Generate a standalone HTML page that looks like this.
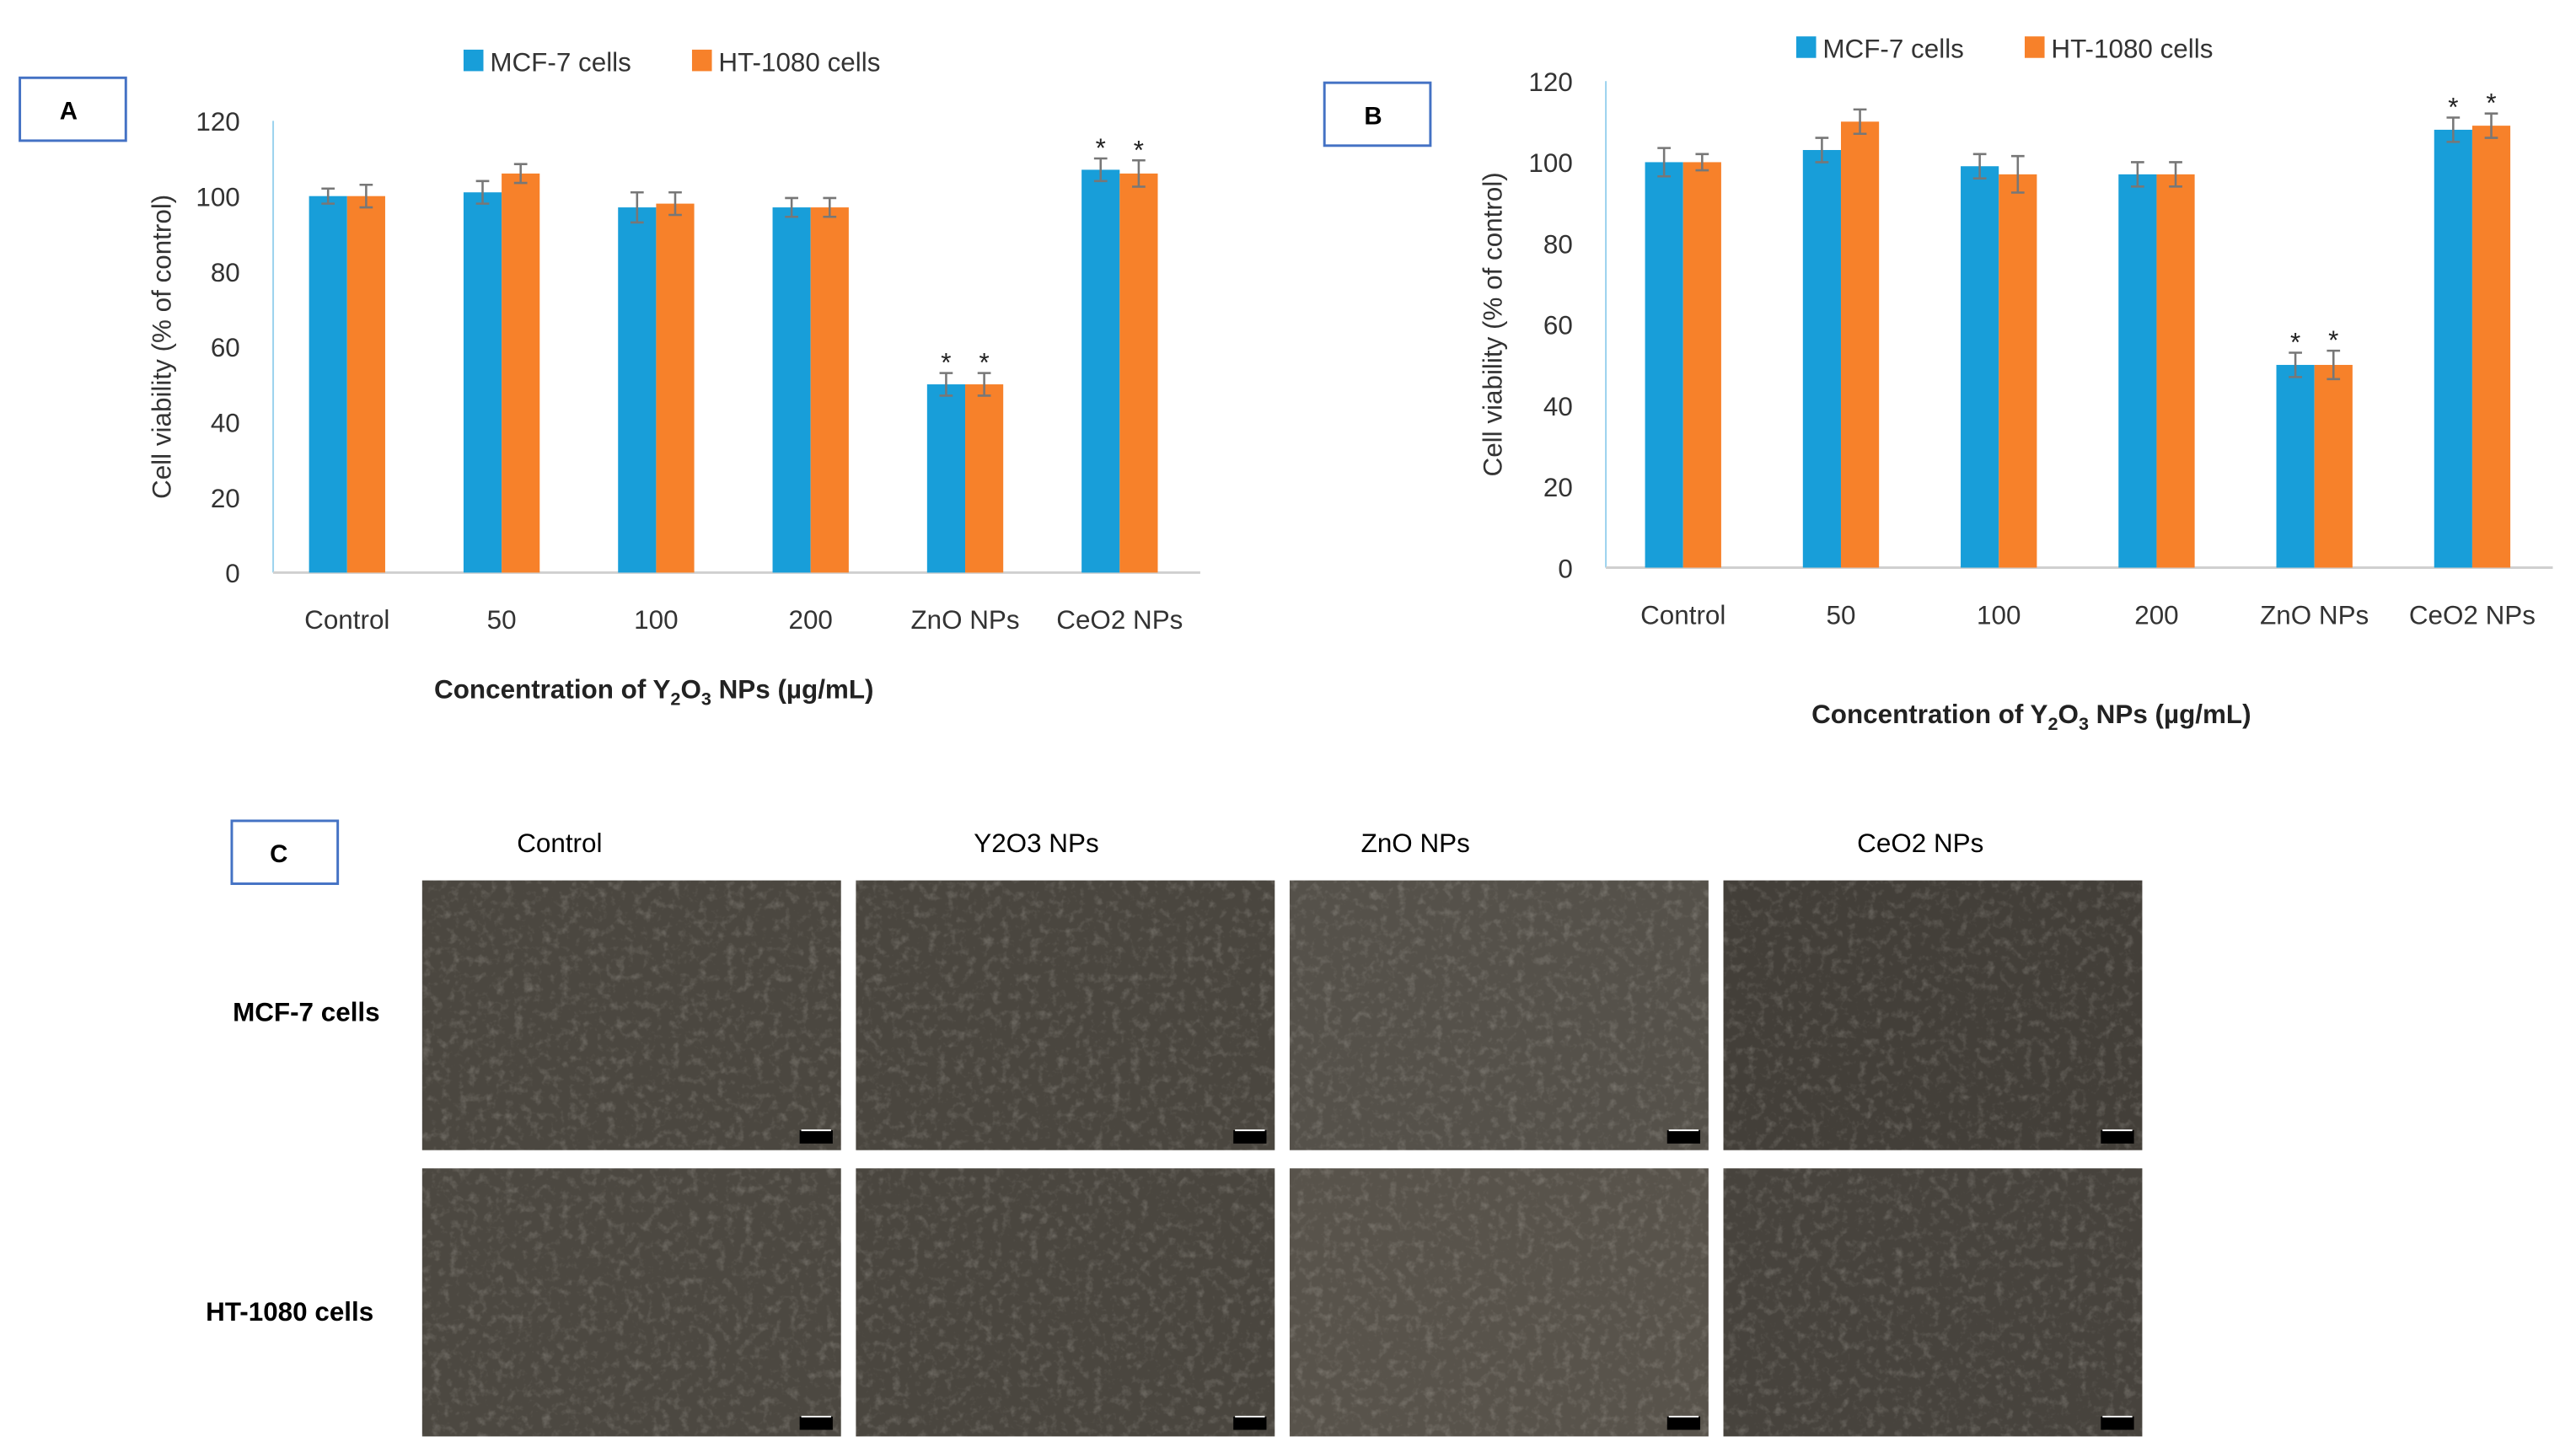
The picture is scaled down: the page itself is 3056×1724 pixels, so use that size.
<!DOCTYPE html>
<html><head><meta charset="utf-8"><style>
html,body{margin:0;padding:0;background:#fff}
svg{display:block}
text{font-family:"Liberation Sans",sans-serif}
</style></head><body>
<svg id="fig" width="3056" height="1724" viewBox="0 0 1556 878" preserveAspectRatio="none" xmlns="http://www.w3.org/2000/svg">
<defs>
<filter id="tex" x="0" y="0" width="100%" height="100%">
<feTurbulence type="fractalNoise" baseFrequency="0.18" numOctaves="3" seed="4"/>
<feColorMatrix type="matrix" values="0 0 0 0 0.85  0 0 0 0 0.82  0 0 0 0 0.76  0 0 0 1.6 -0.8"/>
</filter>
</defs>
<g id="charts"></g>
<g id="panelC">
<rect x="140" y="496" width="64" height="38" fill="none" stroke="#4472c4" stroke-width="1.5"/>
<text x="163" y="521" font-size="15" font-weight="bold">C</text>
<text x="338" y="515" font-size="16" text-anchor="middle">Control</text>
<text x="626" y="515" font-size="16" text-anchor="middle">Y2O3 NPs</text>
<text x="855" y="515" font-size="16" text-anchor="middle">ZnO NPs</text>
<text x="1160" y="515" font-size="16" text-anchor="middle">CeO2 NPs</text>
<text x="185" y="617" font-size="16" font-weight="bold" text-anchor="middle">MCF-7 cells</text>
<text x="175" y="798" font-size="16" font-weight="bold" text-anchor="middle">HT-1080 cells</text>
</g>
</svg>
<script>
const NS="http://www.w3.org/2000/svg";
const categories=["Control","50","100","200","ZnO NPs","CeO2 NPs"];
const mcfA=[100,101,97,97,50,107];
const htA=[100,106,98,97,50,106];
const mcfErrA=[2,3,4,2.5,3,3];
const htErrA=[3,2.5,3,2.5,3,3.5];
const mcfB=[100,103,99,97,50,108];
const htB=[100,110,97,97,50,109];
const mcfErrB=[3.5,3,3,3,3,3];
const htErrB=[2,3,4.5,3,3.5,3];
const sigFlags=[0,0,0,0,1,1];
const yTicks=[0,20,40,60,80,100,120];
const BLUE="#189ed9",ORANGE="#f7812a";
function el(tag,attrs,parent,txt){const e=document.createElementNS(NS,tag);for(const k in attrs)e.setAttribute(k,attrs[k]);if(txt!=null)e.textContent=txt;parent.appendChild(e);return e;}
function chart(cfg){
 const root=document.getElementById('charts');
 const g=el('g',{},root);
 
 
 const y=v=>cfg.y0-(v/120)*(cfg.y0-cfg.y120);
 const step=(cfg.xR-cfg.xL)/categories.length;
 const cx=i=>cfg.xL+step*(i+0.5)+cfg.shift;
 const bw=23;
 const bx=el('rect',{x:cfg.boxX,y:cfg.boxY,width:64,height:38,fill:'none',stroke:'#4472c4','stroke-width':1.5},g);
 
 const bt=el('text',{x:cfg.boxX+24,y:cfg.boxY+25,'font-size':15,'font-weight':'bold'},g,cfg.id.toUpperCase());
 
 const ya=el('line',{x1:cfg.xL,x2:cfg.xL,y1:cfg.y120,y2:cfg.y0,stroke:'#9ad2ee','stroke-width':1},g);
 
 const xa=el('line',{x1:cfg.xL,x2:cfg.xR,y1:cfg.y0,y2:cfg.y0,stroke:'#d0d0d0','stroke-width':1.5},g);
 
 yTicks.forEach(t=>{const tx=el('text',{x:cfg.xL-20,y:y(t)+6,'font-size':16,'text-anchor':'end',fill:'#333'},g,String(t));
  });
 const yl=el('text',{x:0,y:0,'font-size':16,'text-anchor':'middle',fill:'#333',transform:`translate(${cfg.ylx},${(cfg.y0+cfg.y120)/2}) rotate(-90)`},g,'Cell viability (% of control)');
 
 categories.forEach((c,i)=>{
  const lt=el('text',{x:cx(i),y:cfg.y0+34,'font-size':16,'text-anchor':'middle',fill:'#333'},g,c);
  
  [[cfg.m,cfg.me,BLUE,-bw,'mcf7'],[cfg.h,cfg.he,ORANGE,0,'ht1080']].forEach(([vals,errs,col,off,nm])=>{
   const v=vals[i],xx=cx(i)+off;
   const b=el('rect',{x:xx,y:y(v),width:bw,height:cfg.y0-y(v),fill:col},g);
   
   const mx=xx+bw/2,e=errs[i];
   const eb=el('path',{d:`M${mx},${y(v+e)}V${y(v-e)}M${mx-4},${y(v+e)}H${mx+4}M${mx-4},${y(v-e)}H${mx+4}`,stroke:'#777','stroke-width':1.3,fill:'none'},g);
   
   if(sigFlags[i]){const s=el('text',{x:mx,y:y(v+e)-1,'font-size':16,'text-anchor':'middle',fill:'#222'},g,'*');
    }
  });
 });
 const xt=el('text',{x:cfg.xtx,y:cfg.xty,'font-size':16,'font-weight':'bold','text-anchor':'middle',fill:'#222'},g);
 
 xt.innerHTML='Concentration of Y<tspan font-size="11" dy="4">2</tspan><tspan dy="-4">O</tspan><tspan font-size="11" dy="4">3</tspan><tspan dy="-4"> NPs (µg/mL)</tspan>';
 const lg=el('g',{},g);
 const r1=el('rect',{x:cfg.lgx,y:cfg.lgy-7,width:12,height:13,fill:BLUE},lg);
 const t1=el('text',{x:cfg.lgx+16,y:cfg.lgy+6,'font-size':16,fill:'#333'},lg,'MCF-7 cells');
 const r2=el('rect',{x:cfg.lgx+138,y:cfg.lgy-7,width:12,height:13,fill:ORANGE},lg);
 const t2=el('text',{x:cfg.lgx+154,y:cfg.lgy+6,'font-size':16,fill:'#333'},lg,'HT-1080 cells');
}
chart({id:'a',xL:165,xR:725,shift:-2,y0:346,y120:73,m:mcfA,h:htA,me:mcfErrA,he:htErrA,boxX:12,boxY:47,ylx:103,xtx:395,xty:422,lgx:280,lgy:37});
chart({id:'b',xL:970,xR:1542,shift:-1,y0:343,y120:49,m:mcfB,h:htB,me:mcfErrB,he:htErrB,boxX:800,boxY:50,ylx:907,xtx:1227,xty:437,lgx:1085,lgy:29});
const pc=document.getElementById('panelC');
const colsX=[255,517,779,1041],rowsY=[532,706];
const tones=["#4b4740","#4a463f","#55514a","#433f39","#4c4841","#4a463f","#58534b","#47433d"];
rowsY.forEach((ry,r)=>colsX.forEach((cx,c)=>{
 const g=el('g',{},pc);
 
 
 el('rect',{x:cx,y:ry,width:253,height:r?162:163,fill:tones[r*4+c]},g);
 el('rect',{x:cx,y:ry,width:253,height:r?162:163,filter:'url(#tex)',opacity:0.3},g);
 el('rect',{x:cx+228,y:ry+(r?150:151),width:20,height:8,fill:'#000'},g);
 el('line',{x1:cx+229,x2:cx+247,y1:ry+(r?150:151),y2:ry+(r?150:151),stroke:'#fff','stroke-width':1},g);
}));
</script>
</body></html>
